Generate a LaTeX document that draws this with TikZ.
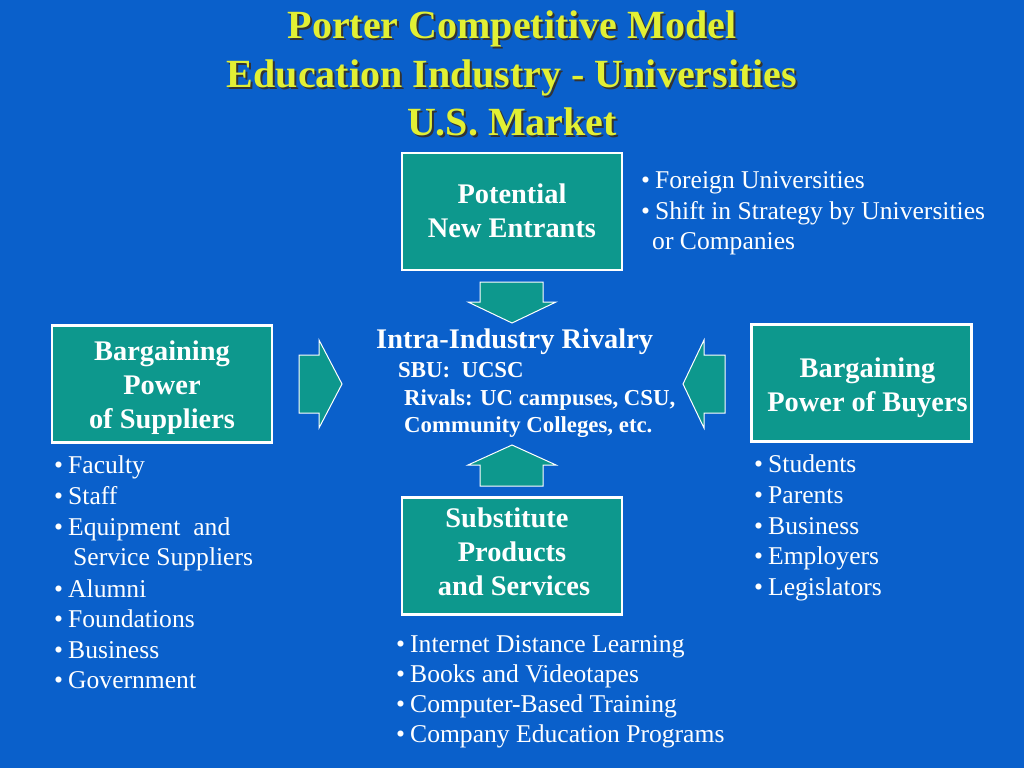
\documentclass[tikz,border=0pt]{standalone}
\usepackage{fontspec}
\setmainfont{Liberation Serif}
\definecolor{bgblue}{RGB}{10,96,203}
\definecolor{boxteal}{RGB}{13,152,141}
\definecolor{titleyellow}{RGB}{226,240,52}
\newcommand{\bl}[1]{\makebox[14pt][l]{\textbullet}#1}
\tikzset{
  forcebox/.style={draw=white, line width=2.6pt, fill=boxteal,
    minimum width=220pt, minimum height=117pt, inner sep=0pt},
  boxtext/.style={text=white, font=\bfseries\fontsize{28.4}{34}\selectfont, align=center, inner sep=0pt},
  blockarrow/.style={draw=white, line width=1pt, fill=boxteal},
  titletext/.style={font=\bfseries\fontsize{40}{48}\selectfont, inner sep=0pt, anchor=base},
  listtext/.style={text=white, font=\fontsize{25.6}{30.8}\selectfont, inner sep=0pt, anchor=base west},
  rivaltext/.style={text=white, font=\bfseries\fontsize{22.8}{27.5}\selectfont, inner sep=0pt, anchor=base west}
}
\begin{document}
\begin{tikzpicture}[x=1pt,y=-1pt]
\fill[bgblue] (0,0) rectangle (1024,768);
\useasboundingbox (0,0) rectangle (1024,768);
% title with shadow
\foreach \t/\yy/\n in {Porter Competitive Model/39/1, Education Industry - Universities/87/2, U.S. Market/135/3}{
  \node[titletext, text=black!80] (ts\n) at (514,\yy+2) {\t};
  \node[titletext, text=titleyellow] (t\n) at (512,\yy) {\t};
}
% boxes
\node[forcebox] (pne) at (512,211.5) {};
\node[boxtext] (pnet) at ([yshift=1pt]pne.center) {Potential\\New Entrants};
\node[forcebox] (sup) at (162,384) {};
\node[boxtext] (supt) at ([yshift=-4pt]sup.center) {Bargaining\\Power\\of Suppliers};
\node[forcebox] (buy) at (861.5,383) {};
\node[boxtext] (buyt) at ([xshift=6pt,yshift=-5pt]buy.center) {Bargaining\\Power of Buyers};
\node[forcebox] (sub) at (512,556) {};
\node[boxtext] (subt) at ([yshift=4pt]sub.center) {Substitute\hspace*{10pt}\\Products\\\hspace*{4pt}and Services};
% block arrows
\draw[blockarrow] (480,282) -- (543,282) -- (543,302) -- (556,302) -- (512,323) -- (468,302) -- (480,302) -- cycle;
\draw[blockarrow] (512,445) -- (556,465) -- (543,465) -- (543,486) -- (480,486) -- (480,465) -- (468,465) -- cycle;
\draw[blockarrow] (299,355) -- (319,355) -- (319,340) -- (342,384) -- (319,428) -- (319,413) -- (299,413) -- cycle;
\draw[blockarrow] (725,355) -- (704,355) -- (704,340) -- (683,384) -- (704,428) -- (704,413) -- (725,413) -- cycle;
% center rivalry text
\node[rivaltext, font=\bfseries\fontsize{28.4}{34}\selectfont] (riv) at (376,348) {Intra-Industry Rivalry};
\node[rivaltext] (sbu) at (398,377) {SBU:\ \ UCSC};
\node[rivaltext] (rv1) at (404,405) {Rivals: UC campuses, CSU,};
\node[rivaltext] (rv2) at (404,432) {Community Colleges, etc.};
% new entrants list
\node[listtext] (ne1) at (641,188) {\bl{Foreign Universities}};
\node[listtext] (ne2) at (641,219) {\bl{Shift in Strategy by Universities}};
\node[listtext] (ne3) at (652,249) {or Companies};
% suppliers list
\node[listtext] (s1) at (54,473) {\bl{Faculty}};
\node[listtext] (s2) at (54,504) {\bl{Staff}};
\node[listtext] (s3) at (54,535) {\bl{Equipment\ \ and}};
\node[listtext] (s4) at (73,565) {Service Suppliers};
\node[listtext] (s5) at (54,597) {\bl{Alumni}};
\node[listtext] (s6) at (54,627) {\bl{Foundations}};
\node[listtext] (s7) at (54,658) {\bl{Business}};
\node[listtext] (s8) at (54,688) {\bl{Government}};
% buyers list
\node[listtext] (b1) at (754,472) {\bl{Students}};
\node[listtext] (b2) at (754,503) {\bl{Parents}};
\node[listtext] (b3) at (754,534) {\bl{Business}};
\node[listtext] (b4) at (754,564) {\bl{Employers}};
\node[listtext] (b5) at (754,595) {\bl{Legislators}};
% substitutes list
\node[listtext] (u1) at (396,652) {\bl{Internet Distance Learning}};
\node[listtext] (u2) at (396,682) {\bl{Books and Videotapes}};
\node[listtext] (u3) at (396,712) {\bl{Computer-Based Training}};
\node[listtext] (u4) at (396,742) {\bl{Company Education Programs}};
\end{tikzpicture}
\end{document}
